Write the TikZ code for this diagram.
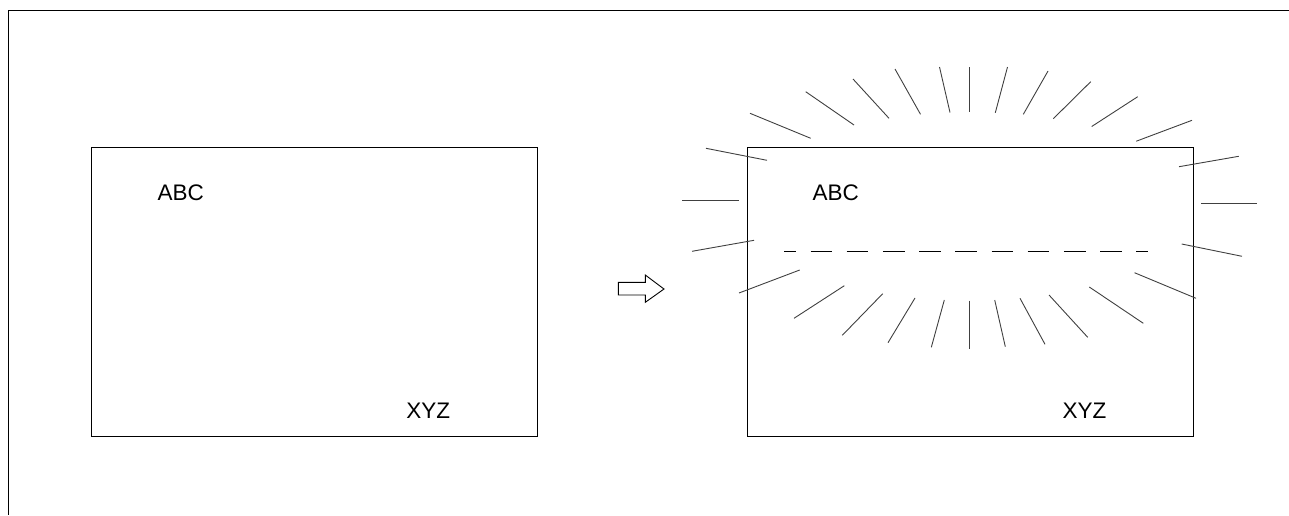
\documentclass[tikz,border=0pt]{standalone}
\usepackage{fontspec}
\setmainfont{Liberation Sans}
\begin{document}
\begin{tikzpicture}[x=1pt,y=-1pt,
  frameline/.style={line width=1.2pt,black},
  panel/.style={draw=black,line width=1pt,minimum width=446pt,minimum height=289pt,inner sep=0pt,anchor=north west},
  lbl/.style={inner sep=0pt,font=\fontsize{22.5}{26}\selectfont},
  ray/.style={line width=0.9pt,black!75},
  sep/.style={line width=1pt,black,dash pattern=on 21.7pt off 14.5pt,dash phase=9.7pt}]
\useasboundingbox (0,0) rectangle (1289,515);
% outer frame (top and left edges)
\draw[frameline] (1289,10.3) -- (8.3,10.3) -- (8.3,515);
% left panel
\node[panel] (p1) at (91,147.3) {};
\node[lbl] (abc1) at (180.7,193) {ABC};
\node[lbl] (xyz1) at (428.3,410.7) {XYZ};
% hollow arrow
\draw[line width=0.9pt] (618.3,282.3) -- (645.3,282.3) -- (645.3,275) -- (664,289) -- (645.3,302.3) -- (645.3,295) -- (618.3,295) -- cycle;
% right panel
\node[panel] (p2) at (746.5,147.3) {};
\node[lbl] (abc2) at (835.7,192.7) {ABC};
\node[lbl] (xyz2) at (1084.5,410.5) {XYZ};
\coordinate (d1) at (784,251.3);
\coordinate (d2) at (1148.3,251.3);
\draw[sep] (d1) -- (d2);
% rays
\foreach \a/\b/\c/\d in {
  750/113.3/810.7/138.3,
  805.7/91.7/854/125,
  853/79/889/118.3,
  895/69/920.5/114.3,
  939.5/67/950/112.5,
  969.3/67/969.3/111.8,
  1007.5/67/995.3/112.7,
  1048/71/1023.3/114.3,
  1090.7/81.7/1053.3/118.7,
  1137.7/96.7/1091.7/126.5,
  1192/120.3/1136.3/141.2,
  1238.7/156.3/1179/166.7,
  1201/203.3/1257.3/203.3,
  1181.7/244/1242/256.3,
  1134.5/272.7/1196/298.3,
  1089.3/287/1143.3/323.3,
  1049/295/1087.7/337.3,
  1020/298.3/1045/344.3,
  994.7/300/1005.3/346.7,
  969.3/300.7/969.3/349.3,
  944.3/300/931.3/347.3,
  915/298/888/342.7,
  882.7/293.7/842.3/335.3,
  844.3/285.7/794/318.3,
  799.7/270/739/293,
  754/240.3/692/251.3,
  738.7/200.3/682.3/200.3,
  767/160.3/706/148.3}
  \draw[ray] (\a,\b) -- (\c,\d);
\end{tikzpicture}
\end{document}
